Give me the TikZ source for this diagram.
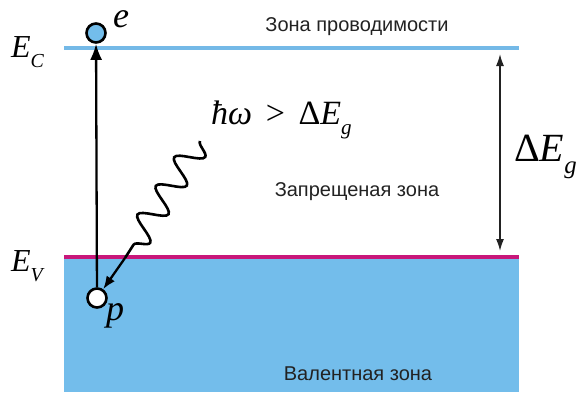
\documentclass[tikz,border=0pt]{standalone}
\usepackage{fontspec}
\setmainfont{Liberation Serif}
\newfontfamily\symfont{Liberation Serif}
\newfontfamily\zonefont{Liberation Sans}
\usetikzlibrary{arrows.meta, decorations.pathmorphing, positioning}
\definecolor{bandblue}{HTML}{73BDEB}
\definecolor{edgeblue}{HTML}{74B9E7}
\definecolor{edgemagenta}{HTML}{C8177A}
\definecolor{inkgray}{HTML}{222222}

% lowered italic index, as in E_C
\newcommand{\lowidx}[1]{\raisebox{-0.32em}{\scalebox{0.62}{\itshape #1}}}

\begin{document}
\begin{tikzpicture}[
    x=1pt, y=-1pt,
    particle/.style={
        draw=black, line width=2.6pt, circle,
        minimum size=19pt, inner sep=0pt
    },
    zonelabel/.style={
        font=\zonefont\fontsize{20}{22}\selectfont, text=inkgray,
        inner sep=0pt
    },
    levellabel/.style={
        font=\symfont\fontsize{32}{34}\selectfont\itshape, text=black,
        inner sep=0pt, anchor=base west
    },
    bandedge/.style={
        line width=4.5pt
    },
    transition/.style={
        -{Latex[length=16pt, width=12pt]}, line width=2.3pt, draw=black
    },
    photon/.style={
        line width=2.6pt, draw=black,
        decorate, decoration={snake, amplitude=13pt, segment length=34pt}
    },
    photontip/.style={
        -{Latex[length=13pt, width=10pt]}, line width=2.3pt, draw=black
    },
    gaparrow/.style={
        {Latex[length=12pt, width=8pt]}-{Latex[length=12pt, width=8pt]},
        line width=1.5pt, draw=inkgray
    },
]
\useasboundingbox (0,0) rectangle (577,392);

% === Bands ===
\fill[bandblue] (64,258) rectangle (519,392);
\draw[bandedge, edgeblue] (64,48) -- (519,48);
\draw[bandedge, edgemagenta] (64,257) -- (519,257);

% === Level labels ===
\node[levellabel] (eclab) at (11,57) {E\lowidx{C}};
\node[levellabel] (evlab) at (11,271) {E\lowidx{V}};

% === Zone names ===
\node[zonelabel] (cbname) at (357,27) {Зона проводимости};
\node[zonelabel] (gapname) at (357,192) {Запрещеная зона};
\node[zonelabel] (vbname) at (358,374) {Валентная зона};

% === Electron and hole ===
\node[particle, fill=bandblue] (elec) at (96,33) {};
\node[particle, fill=white] (hole) at (97,298) {};
\node[levellabel, font=\symfont\fontsize{36}{36}\selectfont\itshape] (elab) at (113,27) {e};
\node[levellabel, font=\symfont\fontsize{36}{36}\selectfont\itshape] (plab) at (106,320) {p};

% excitation across the gap
\draw[transition] (hole) -- (elec);

% === Photon ===
\coordinate (wtop) at (200,141);
\coordinate (wbot) at (125,258);
\draw[photon] (wtop) -- (wbot);
\draw[photontip] (wbot) -- (hole);
\node[levellabel, font=\symfont\fontsize{34}{36}\selectfont\itshape] (energy) at (211,124)
    {ħω\hspace{0.4em}\upshape>\hspace{0.4em}Δ\itshape E\lowidx{g}};

% === Gap width ===
\coordinate (gtop) at (500,48);
\coordinate (gbot) at (500,257);
\draw[gaparrow, shorten <=6pt, shorten >=6pt] (gtop) -- (gbot);
\node[levellabel, font=\symfont\fontsize{40}{40}\selectfont] (gaplab) at (514,161)
    {Δ\itshape E\lowidx{g}};

\end{tikzpicture}
\end{document}
